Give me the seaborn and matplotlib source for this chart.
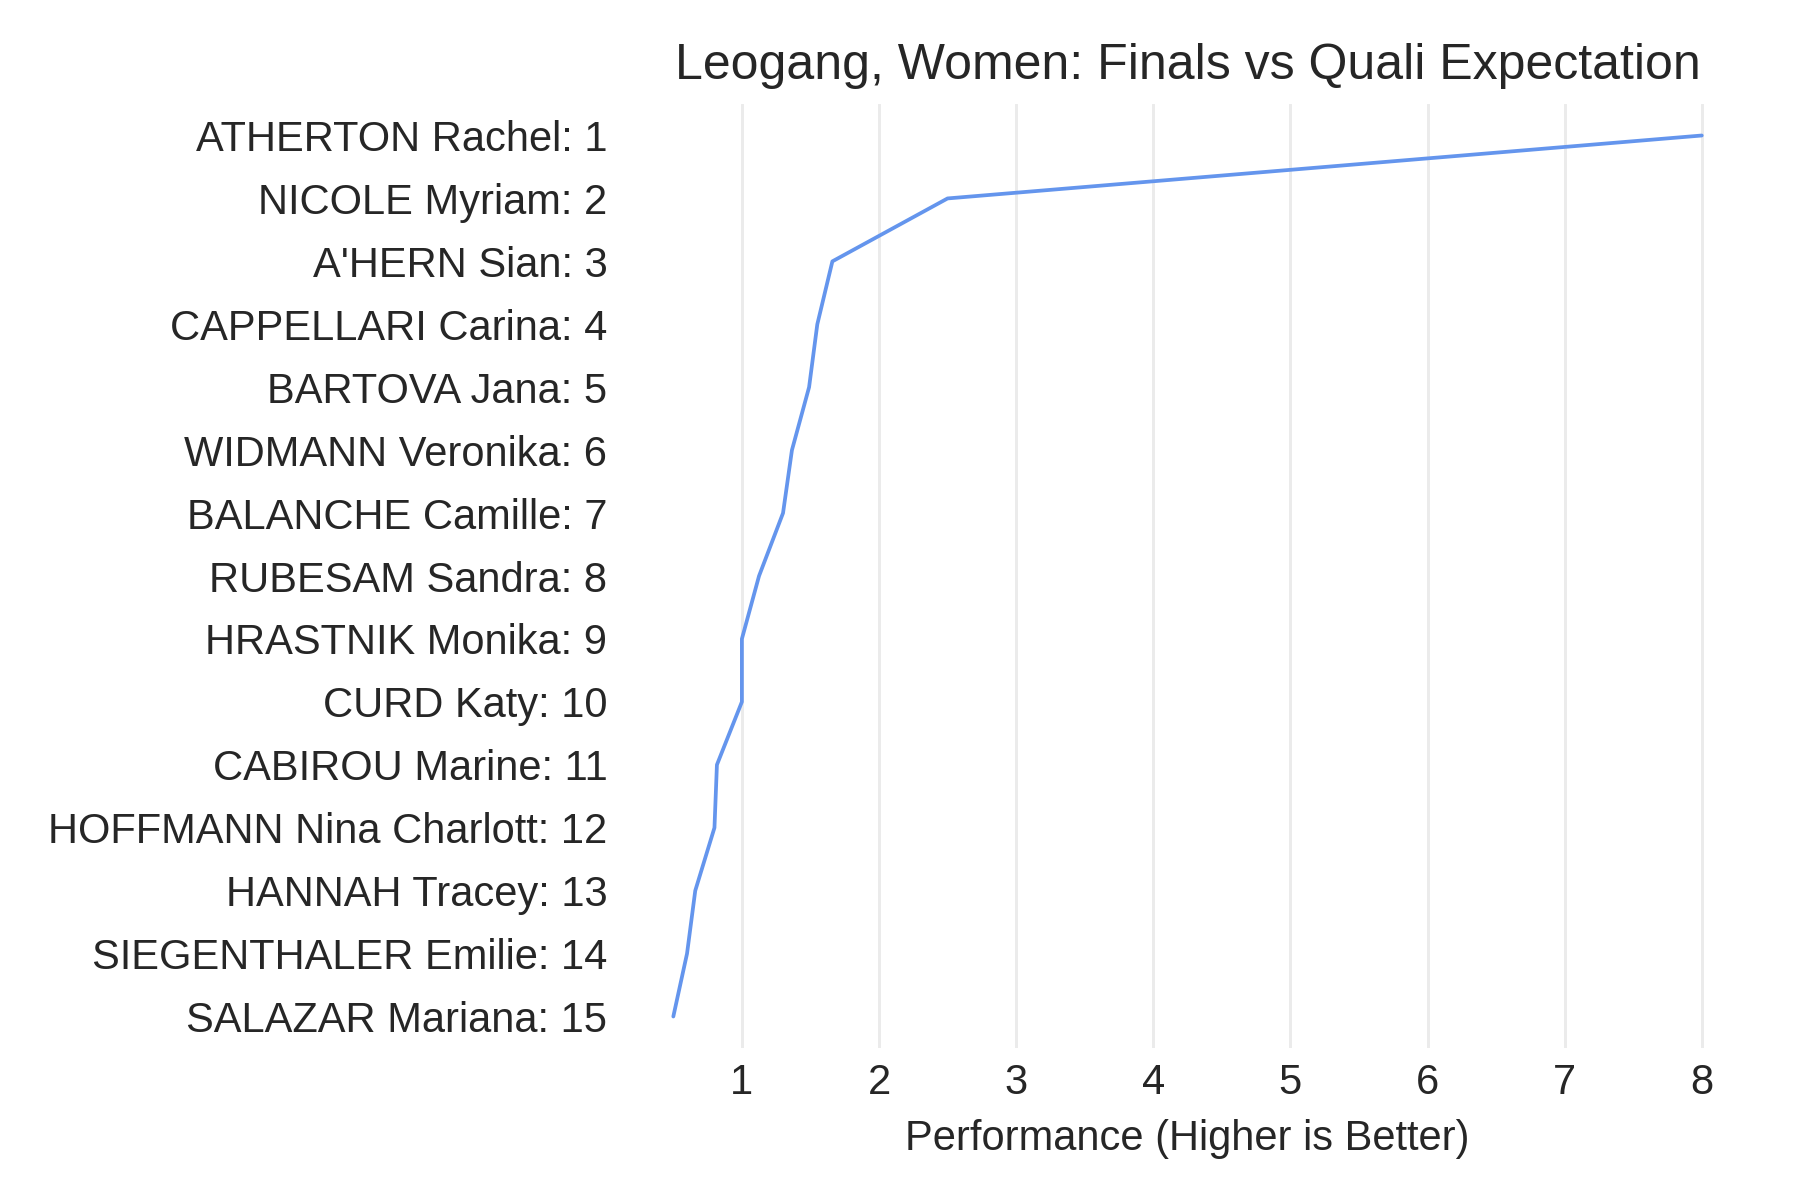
import matplotlib
matplotlib.use("Agg")
import matplotlib.pyplot as plt
import seaborn as sns
import pandas as pd

# Riders in finals order and their performance vs quali expectation
riders = ["ATHERTON Rachel", "NICOLE Myriam", "A'HERN Sian", "CAPPELLARI Carina",
          "BARTOVA Jana", "WIDMANN Veronika", "BALANCHE Camille", "RUBESAM Sandra",
          "HRASTNIK Monika", "CURD Katy", "CABIROU Marine", "HOFFMANN Nina Charlott",
          "HANNAH Tracey", "SIEGENTHALER Emilie", "SALAZAR Mariana"]
final_pos = list(range(1, 16))
performance = [8.0, 2.5, 1.66, 1.55, 1.49, 1.365, 1.30, 1.125,
               1.0, 1.0, 0.818, 0.80, 0.66, 0.60, 0.50]

df = pd.DataFrame({
    "Rider": [f"{r}: {p}" for r, p in zip(riders, final_pos)],
    "Performance": performance,
})

sns.set_style("whitegrid")
plt.rcParams["font.family"] = ["Liberation Sans", "DejaVu Sans"]

fig = plt.figure(figsize=(6, 4), dpi=300)
ax = fig.add_axes([0.3455, 0.1267, 0.6285, 0.7866])

sns.lineplot(data=df, x="Performance", y="Rider", orient="y", sort=False,
             color="cornflowerblue", linewidth=0.9, ax=ax)

ax.set_ylim(len(df) - 0.5, -0.5)
ax.set_xticks(range(1, 9))
ax.grid(axis="y", visible=False)
ax.grid(axis="x", color="#EBEBEB", linewidth=0.7)
for s in ax.spines.values():
    s.set_visible(False)
ax.tick_params(axis="both", length=0, labelsize=10, colors="#262626", pad=3.5)
ax.set_ylabel("")
ax.set_xlabel("Performance (Higher is Better)", fontsize=10, color="#262626", labelpad=4)
ax.set_title("Leogang, Women: Finals vs Quali Expectation", fontsize=12, color="#262626")

fig.savefig("out.png", dpi=300)
